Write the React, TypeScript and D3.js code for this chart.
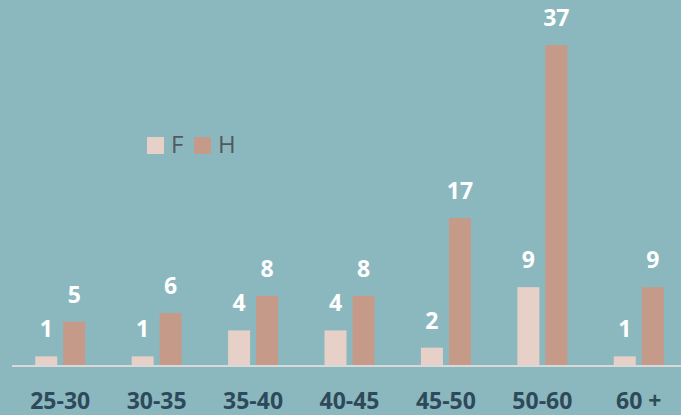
import React, { useRef, useEffect } from 'react';
import * as d3 from 'd3';

const categories = ['25-30', '30-35', '35-40', '40-45', '45-50', '50-60', '60 +'];
const seriesNames = ['F', 'H'];
const valuesF = [1, 1, 4, 4, 2, 9, 1];
const valuesH = [5, 6, 8, 8, 17, 37, 9];

const colors: Record<string, string> = { F: '#E6D0C7', H: '#C69A88' };

const W = 681;
const H = 415;

const App: React.FC = () => {
    const svgRef = useRef<SVGSVGElement | null>(null);

    useEffect(() => {
        document.body.style.margin = '0';
        if (!svgRef.current) return;
        const svg = d3.select(svgRef.current);
        svg.selectAll('*').remove();

        const font = '"Open Sans", "DejaVu Sans", sans-serif';

        svg.append('rect').attr('width', W).attr('height', H).attr('fill', '#8BB8BE');

        const x0 = d3.scaleBand<string>().domain(categories).range([12, 687]).padding(0);
        const bw = x0.bandwidth();
        const x1 = d3.scaleBand<string>()
            .domain(seriesNames)
            .range([bw / 2 - 25, bw / 2 + 25])
            .paddingInner(0.214);
        const y = d3.scaleLinear().domain([0, 37]).range([365, 45]);

        const rows = categories.map((c, i) => ({ cat: c, F: valuesF[i], H: valuesH[i] }));

        const groups = svg.append('g')
            .selectAll('g')
            .data(rows)
            .enter()
            .append('g')
            .attr('transform', (d) => `translate(${x0(d.cat)},0)`);

        const items = groups.selectAll('g')
            .data((d: any) => seriesNames.map((k) => ({ key: k, value: d[k] as number })))
            .enter()
            .append('g');

        items.append('rect')
            .attr('x', (d) => x1(d.key)!)
            .attr('width', x1.bandwidth())
            .attr('y', (d) => y(d.value))
            .attr('height', (d) => y(0) - y(d.value))
            .attr('fill', (d) => colors[d.key]);

        items.append('text')
            .attr('x', (d) => x1(d.key)! + x1.bandwidth() / 2)
            .attr('y', (d) => y(d.value) - 19)
            .attr('text-anchor', 'middle')
            .attr('fill', '#ffffff')
            .style('font-family', font)
            .style('font-weight', 'bold')
            .style('font-size', '23px')
            .text((d) => d.value);

        // axis line
        svg.append('line')
            .attr('x1', 12).attr('x2', W)
            .attr('y1', 366).attr('y2', 366)
            .attr('stroke', '#D9D9D9')
            .attr('stroke-width', 2);

        svg.append('g')
            .selectAll('text')
            .data(categories)
            .enter()
            .append('text')
            .attr('x', (d) => x0(d)! + bw / 2)
            .attr('y', 409)
            .attr('text-anchor', 'middle')
            .attr('fill', '#2E4A5A')
            .style('font-family', font)
            .style('font-weight', 'bold')
            .style('font-size', '23px')
            .text((d) => d);

        // legend
        const legend = svg.append('g').attr('transform', 'translate(147,137)');
        const legendItems = legend.selectAll('g')
            .data(seriesNames)
            .enter()
            .append('g')
            .attr('transform', (_d, i) => `translate(${i * 47},0)`);
        legendItems.append('rect')
            .attr('width', 17).attr('height', 17)
            .attr('fill', (d) => colors[d]);
        legendItems.append('text')
            .attr('x', 24)
            .attr('y', 16)
            .attr('fill', '#515A5E')
            .style('font-family', font)
            .style('font-size', '24px')
            .text((d) => d);
    }, []);

    return <svg ref={svgRef} width={W} height={H} style={{ display: 'block' }}></svg>;
};

export default App;
